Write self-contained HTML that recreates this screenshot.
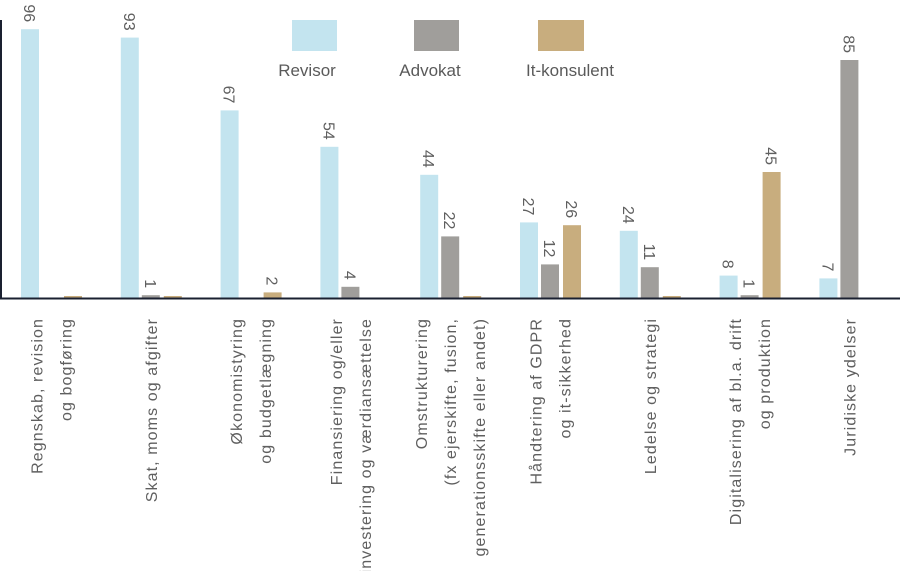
<!DOCTYPE html>
<html><head><meta charset="utf-8"><style>
body{margin:0;background:#fff}
svg{display:block;font-family:"Liberation Sans",sans-serif}
</style></head><body>
<svg id="chart" width="900" height="571" viewBox="0 0 900 571" xmlns="http://www.w3.org/2000/svg">
<g id="legend">
  <rect x="292" y="20" width="45" height="31" fill="#c3e4ef"/>
  <text x="307" y="76" text-anchor="middle" font-size="17" fill="#5a5a5a">Revisor</text>
  <rect x="414" y="20" width="45" height="31" fill="#a09e9b"/>
  <text x="430" y="76" text-anchor="middle" font-size="17" fill="#5a5a5a">Advokat</text>
  <rect x="538" y="20" width="46" height="31" fill="#c8ad7e"/>
  <text x="570" y="76" text-anchor="middle" font-size="17" fill="#5a5a5a">It-konsulent</text>
</g>
<g id="bars"></g>
<g id="xlabels"></g>
<line x1="1" y1="20" x2="1" y2="299" stroke="#1a2030" stroke-width="2"/>
<line x1="0" y1="298.5" x2="900" y2="298.5" stroke="#1a2030" stroke-width="2"/>
</svg>
<script>
const categories = [
  ["Regnskab, revision","og bogføring"],
  ["Skat, moms og afgifter"],
  ["Økonomistyring","og budgetlægning"],
  ["Finansiering og/eller","investering og værdiansættelse"],
  ["Omstrukturering","(fx ejerskifte, fusion,","generationsskifte eller andet)"],
  ["Håndtering af GDPR","og it-sikkerhed"],
  ["Ledelse og strategi"],
  ["Digitalisering af bl.a. drift","og produktion"],
  ["Juridiske ydelser"]
];
const revisor = [96, 93, 67, 54, 44, 27, 24, 8, 7];
const advokat = [0, 1, 0, 4, 22, 12, 11, 1, 85];
const itKonsulent = [0.5, 0.5, 2, 0, 0.5, 26, 0.5, 45, 0];
const seriesNames = ["revisor","advokat","it-konsulent"];
const seriesColors = ["#c3e4ef","#a09e9b","#c8ad7e"];

const NS = "http://www.w3.org/2000/svg";
const baseY = 298;
const pxPerUnit = 2.8;
const y = v => baseY - v * pxPerUnit;
const groupX = i => 21 + i * 99.8;
const barW = 18;
const offsets = [0, 21, 43];
const barsG = document.getElementById('bars');
const labG = document.getElementById('xlabels');
const series = [revisor, advokat, itKonsulent];

categories.forEach((cat, i) => {
  series.forEach((data, s) => {
    const v = data[i];
    if (v <= 0) return;
    const x = groupX(i) + offsets[s];
    const top = y(v);
    const r = document.createElementNS(NS, 'rect');
    
    
    r.setAttribute('x', x);
    r.setAttribute('y', Math.min(top, baseY - 2));
    r.setAttribute('width', barW);
    r.setAttribute('height', Math.max(baseY - top, 2));
    r.setAttribute('fill', seriesColors[s]);
    barsG.appendChild(r);
    if (v >= 1) {
      const t = document.createElementNS(NS, 'text');
      
      
      const cx = x + barW / 2, ty = top - 7;
      t.setAttribute('transform', 'translate(' + (cx - 6) + ',' + ty + ') rotate(90)');
      t.setAttribute('text-anchor', 'end');
      t.setAttribute('font-size', '16');
      t.setAttribute('fill', '#5f5f5f');
      t.textContent = String(v);
      barsG.appendChild(t);
    }
  });
  const center = groupX(i) + 30;
  const n = cat.length, sp = 29;
  cat.forEach((line, k) => {
    const lx = center + (k - (n - 1) / 2) * sp;
    const t = document.createElementNS(NS, 'text');
    
    
    t.setAttribute('transform', 'translate(' + (lx + 6) + ',318) rotate(-90)');
    t.setAttribute('text-anchor', 'end');
    t.setAttribute('font-size', '16');
    t.setAttribute('letter-spacing', '1.1');
    t.setAttribute('fill', '#5f5f5f');
    t.textContent = line;
    labG.appendChild(t);
  });
});
</script>
</body></html>
